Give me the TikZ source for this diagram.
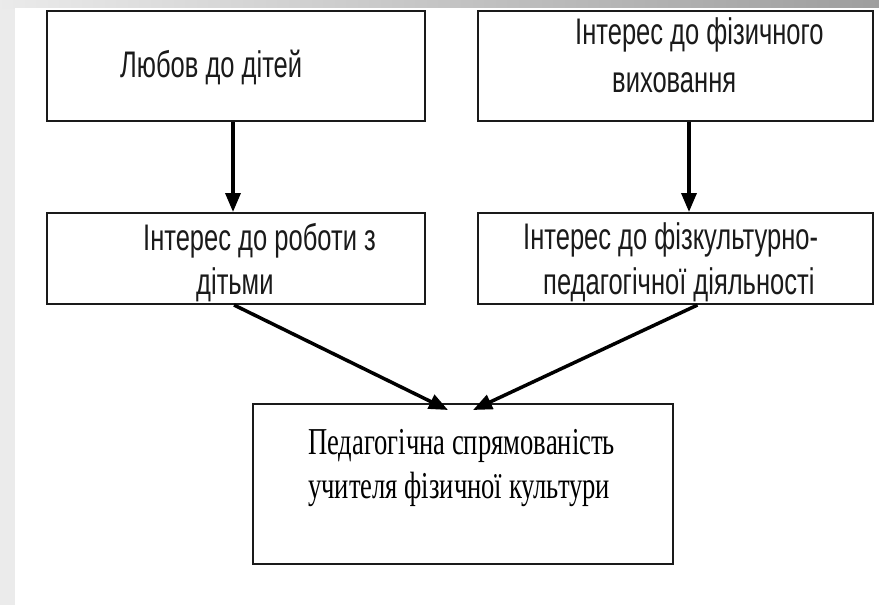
\documentclass[tikz,border=0pt]{standalone}
\usepackage{fontspec}
\newfontfamily\narrowsans[FakeStretch=0.69]{Liberation Sans}
\newfontfamily\narrowserif[FakeStretch=0.70]{Liberation Serif}
\usetikzlibrary{arrows.meta}
\definecolor{ink}{HTML}{1A1A1A}
\begin{document}
\begin{tikzpicture}[x=1pt,y=-1pt,
  box/.style={draw=ink, line width=2pt, inner sep=0pt, anchor=north west},
  sanstext/.style={font=\narrowsans\fontsize{37}{37}\selectfont, text=ink, inner sep=0pt, anchor=base west},
  seriftext/.style={font=\narrowserif\fontsize{38}{38}\selectfont, text=black, inner sep=0pt, anchor=base west},
  arr/.style={draw=black, line width=3.5pt, -{Triangle[length=19pt,width=15pt]}}
]
\useasboundingbox (0,0) rectangle (879,605);
\fill[black!8] (0,0) rectangle (879,605);
\shade[left color=black!8, middle color=black!15, right color=black!38] (0,0) rectangle (879,8);
\fill[white] (15,8) rectangle (879,605);

\node[box, minimum width=378pt, minimum height=110pt] (b1) at (46,10) {};
\node[box, minimum width=395pt, minimum height=110pt] (b2) at (477,10) {};
\node[box, minimum width=378pt, minimum height=91pt] (b3) at (46,212) {};
\node[box, minimum width=395pt, minimum height=91pt] (b4) at (477,212) {};
\node[box, minimum width=420pt, minimum height=160pt] (b5) at (252,403) {};

\node[sanstext] (t1) at (120,77) {Любов до дітей};
\node[sanstext] (t2) at (575,45) {Інтерес до фізичного};
\node[sanstext] (t3) at (612,92) {виховання};
\node[sanstext] (t4) at (143,250) {Інтерес до роботи з};
\node[sanstext] (t5) at (196,294) {дітьми};
\node[sanstext] (t6) at (523,249) {Інтерес до фізкультурно-};
\node[sanstext] (t7) at (543,294) {педагогічної діяльності};
\node[seriftext] (t8) at (308,454) {Педагогічна спрямованість};
\node[seriftext] (t9) at (308,498) {учителя фізичної культури};

\draw[arr] ([xshift=-3pt]b1.south) -- ([xshift=-3pt]b3.north);
\draw[arr] ([xshift=13.5pt]b2.south) -- ([xshift=13.5pt]b4.north);
\draw[arr] ([xshift=-2pt]b3.south) -- ([xshift=-15pt,yshift=-7pt]b5.north);
\draw[arr] ([xshift=22pt]b4.south) -- ([xshift=10pt,yshift=-7pt]b5.north);
\end{tikzpicture}
\end{document}
